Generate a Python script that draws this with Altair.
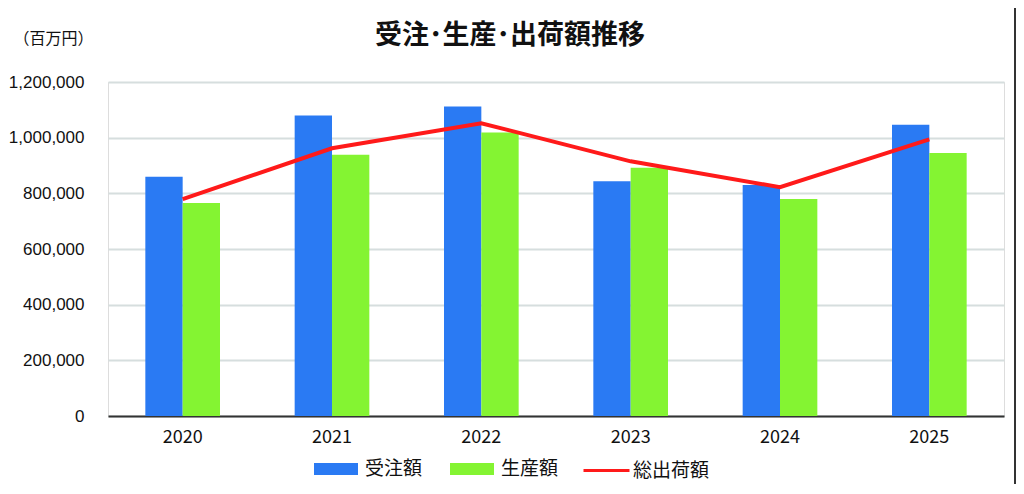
import altair as alt
import pandas as pd

years = ["2020", "2021", "2022", "2023", "2024", "2025"]
orders = [860000, 1080000, 1112000, 843000, 830000, 1046000]
production = [765000, 939000, 1019000, 892000, 780000, 945000]
shipments = [779000, 962000, 1052000, 915000, 822000, 994000]
bar_series = ["受注額", "生産額"]
line_series = "総出荷額"
y_ticks = [0, 100000, 200000, 300000, 400000, 500000, 600000, 700000,
           800000, 900000, 1000000, 1100000, 1200000]

bars = pd.DataFrame({
    "year": years * 2,
    "series": [bar_series[0]] * len(years) + [bar_series[1]] * len(years),
    "value": orders + production,
})
line = pd.DataFrame({"year": years, "series": [line_series] * len(years), "value": shipments})

JP = "Noto Sans CJK JP"
NUM = "Liberation Sans"

x_enc = alt.X("year:N", sort=years,
              scale=alt.Scale(paddingInner=0.5, paddingOuter=0.25),
              axis=alt.Axis(title=None, labelAngle=0, ticks=False, domainColor="#333333",
                            domainWidth=2, labelFont=JP, labelFontSize=18, labelColor="#111111",
                            labelPadding=12, grid=False))
y_enc = alt.Y("value:Q", scale=alt.Scale(domain=[0, 1200000], nice=False),
              axis=alt.Axis(title="（百万円）", titleAngle=0, titleAlign="left", titleBaseline="middle",
                            titleX=-95, titleY=-44, titleFont=JP, titleFontSize=16,
                            titleFontWeight="normal", titleColor="#111111",
                            values=y_ticks,
                            labelExpr="datum.value % 200000 == 0 ? format(datum.value, ',') : ''",
                            labelFont=NUM, labelFontSize=17, labelColor="#111111",
                            labelPadding=24, ticks=False, domain=False,
                            gridColor="#d6dede", gridWidth=2))

bar_layer = alt.Chart(bars).mark_bar().encode(
    x=x_enc,
    xOffset=alt.XOffset("series:N", sort=bar_series),
    y=y_enc,
    fill=alt.Fill("series:N", sort=bar_series,
                  scale=alt.Scale(domain=bar_series, range=["#2a7af3", "#84f432"]),
                  legend=alt.Legend(title=None, orient="none", direction="horizontal",
                                    legendX=217, legendY=376,
                                    symbolType="M-2,-0.55H2V0.55H-2Z", symbolSize=484,
                                    symbolStrokeWidth=0, labelOffset=18, columnPadding=27,
                                    labelFont=JP, labelFontSize=19, labelColor="#111111")),
)

line_layer = alt.Chart(line).mark_line(strokeWidth=4).encode(
    x=alt.X("year:N", sort=years),
    y=alt.Y("value:Q"),
    stroke=alt.Stroke("series:N",
                      scale=alt.Scale(domain=[line_series], range=["#ff1a1a"]),
                      legend=alt.Legend(title=None, orient="none", direction="horizontal",
                                        legendX=474, legendY=364,
                                        symbolType="stroke", symbolSize=2116,
                                        symbolStrokeWidth=3, labelOffset=2,
                                        labelFont=JP, labelFontSize=19, labelColor="#111111")),
)

frame = alt.Chart(pd.DataFrame({"a": [0]})).mark_rule(color="#333333", strokeWidth=2).encode(
    x=alt.value(907), y=alt.value(-74), y2=alt.value(402)
)

chart = alt.layer(bar_layer, line_layer, frame).properties(
    width=896, height=334,
    title=alt.TitleParams("受注･生産･出荷額推移", font=JP, fontSize=27, fontWeight="bold",
                          color="#111111", anchor="middle", frame="group", dx=-46,
                          offset=0, dy=43),
    autosize=alt.AutoSizeParams(type="none"),
    padding={"left": 100, "top": 74, "right": 12, "bottom": 68},
).configure_view(stroke=None).configure(background="white")

chart.save("out.html", embed_options={"renderer": "svg", "actions": False})
